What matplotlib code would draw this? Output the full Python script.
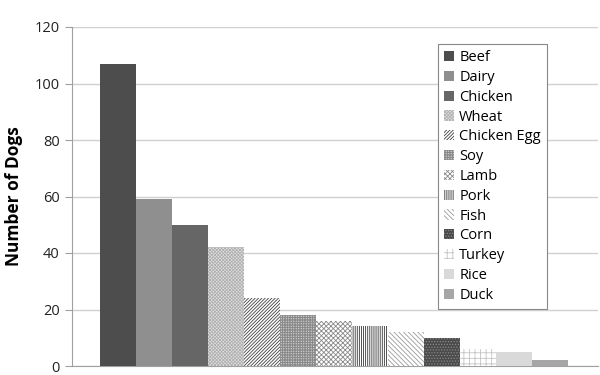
import matplotlib.pyplot as plt
from matplotlib.patches import Patch

# allergen counts
foods = ["Beef", "Dairy", "Chicken", "Wheat", "Chicken Egg", "Soy", "Lamb",
         "Pork", "Fish", "Corn", "Turkey", "Rice", "Duck"]
dogs = [107, 59, 50, 42, 24, 18, 16, 14, 12, 10, 6, 5, 2]
yticks = [0, 20, 40, 60, 80, 100, 120]

# (facecolor, hatch colour, hatch) per bar
styles = [
    ("#4d4d4d", "#4d4d4d", None),
    ("#8f8f8f", "#8f8f8f", None),
    ("#666666", "#666666", None),
    ("#e2e2e2", "#b0b0b0", "xxxxxxxxxx"),
    ("white", "#404040", "//////////"),
    ("white", "#8a8a8a", "++++++++++"),
    ("white", "#8a8a8a", "xxxxxxx"),
    ("white", "#333333", "||||||||"),
    ("white", "#9a9a9a", "\\\\\\\\\\\\\\"),
    ("#4a4a4a", "#8a8a8a", "......"),
    ("white", "#c4c4c4", "+++"),
    ("#d9d9d9", "#d9d9d9", None),
    ("#a6a6a6", "#a6a6a6", None),
]

plt.rcParams["font.family"] = ["Open Sans", "DejaVu Sans"]
plt.rcParams["hatch.linewidth"] = 0.6

fig = plt.figure(figsize=(6, 3.75), dpi=100)
ax = fig.add_axes([0.12, 0.024, 0.877, 0.904])

x = list(range(len(foods)))
handles = []
for i, (fc, hc, h) in enumerate(styles):
    ax.bar(x[i], dogs[i], width=1.0, align="edge", facecolor=fc,
           edgecolor=hc, hatch=h, linewidth=0, zorder=3)
    handles.append(Patch(facecolor=fc, edgecolor=hc, hatch=h, linewidth=0,
                         label=foods[i]))

ax.set_xlim(-0.78, 13.83)
ax.set_ylim(0, 120)
ax.set_yticks(yticks)
ax.set_xticks([])
ax.grid(axis="y", color="#d0d0d0", linewidth=1, zorder=0)
for s in ["top", "right"]:
    ax.spines[s].set_visible(False)
ax.spines["left"].set_color("#a0a0a0")
ax.spines["bottom"].set_color("#a0a0a0")
ax.tick_params(axis="y", length=5, color="#a0a0a0", labelsize=10.5,
               labelcolor="#222222", pad=4)
ax.set_ylabel("Number of Dogs", fontsize=12.5, fontweight="bold", labelpad=8)

leg = fig.legend(handles=handles, loc="upper left",
                 bbox_to_anchor=(0.73, 0.882), fontsize=10.5,
                 handlelength=0.7, handleheight=0.7, handletextpad=0.35,
                 labelspacing=0.33, borderpad=0.4, borderaxespad=0,
                 fancybox=False, framealpha=1)
leg.get_frame().set_edgecolor("#888888")
leg.get_frame().set_linewidth(0.8)

fig.savefig("out.png", dpi=100)
